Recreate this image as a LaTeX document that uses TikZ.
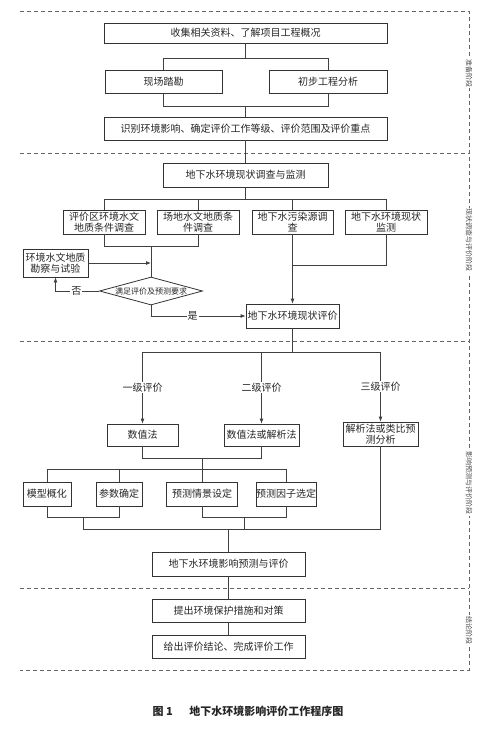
\documentclass[tikz,border=0pt]{standalone}
\usepackage{fontspec}
\newfontfamily\cjk{Noto Sans CJK SC}
\usetikzlibrary{arrows.meta,shapes.geometric}
\begin{document}
\begin{tikzpicture}[x=1pt,y=-1pt,
  box/.style={draw=black!80, line width=0.8pt, inner sep=0pt, align=center, font=\cjk\fontsize{10}{11.5}\selectfont, text=black!85},
  ln/.style={draw=black!75, line width=0.8pt},
  arr/.style={ln,-{Latex[length=5pt,width=4pt]}},
  lab/.style={font=\cjk\fontsize{10}{12}\selectfont, fill=white, inner sep=1pt, text=black!85},
  dsh/.style={draw=black!60, line width=0.8pt, dash pattern=on 4pt off 3pt},
  side/.style={font=\cjk\fontsize{7}{8}\selectfont, rotate=-90, fill=white, inner sep=1pt, text=black!70}
]
\useasboundingbox (0,0) rectangle (486,747);
% dashed frame
\draw[dsh] (20,11) -- (469,11) -- (469,670) -- (20,670);
\draw[dsh] (20,153) -- (469,153);
\draw[dsh] (20,341) -- (469,341);
\draw[dsh] (20,588) -- (469,588);
\node[side] (s1) at (469,73) {准备阶段};
\node[side] (s2) at (469,240) {现状调查与评价阶段};
\node[side] (s3) at (469,483) {影响预测与评价阶段};
\node[side] (s4) at (469,630) {结论阶段};

% stage 1
\node[box, minimum width=283pt, minimum height=20pt] (n1) at (245.5,33) {收集相关资料、了解项目工程概况};
\node[box, minimum width=117pt, minimum height=23pt] (n2) at (163.5,81.5) {现场踏勘};
\node[box, minimum width=118pt, minimum height=23pt] (n3) at (328,81.5) {初步工程分析};
\node[box, minimum width=283pt, minimum height=23pt] (n4) at (245.5,128.5) {识别环境影响、确定评价工作等级、评价范围及评价重点};
\coordinate (j1) at (245.5,58);
\coordinate (j2) at (245.5,106);
\draw[ln] (n1.south) -- (j1);
\draw[ln] (n2.north) |- (n3.north |- j1) -- (n3.north);
\draw[ln] (n2.south) |- (n3.south |- j2) -- (n3.south);
\draw[ln] (j2) -- (n4.north);

% stage 2
\node[box, minimum width=165pt, minimum height=24pt] (n5) at (245.5,175) {地下水环境现状调查与监测};
\draw[ln] (n4.south) -- (n5.north);
\node[box, minimum width=82pt, minimum height=24pt] (b1) at (104,222) {评价区环境水文\\地质条件调查};
\node[box, minimum width=82pt, minimum height=24pt] (b2) at (198,222) {场地水文地质条\\件调查};
\node[box, minimum width=81pt, minimum height=24pt] (b3) at (292.5,222) {地下水污染源调\\查};
\node[box, minimum width=82pt, minimum height=24pt] (b4) at (386,222) {地下水环境现状\\监测};
\coordinate (j3) at (245.5,199);
\draw[ln] (n5.south) -- (j3);
\draw[ln] (b1.north) |- (b4.north |- j3) -- (b4.north);
\draw[ln] (b2.north) -- (b2.north |- j3);
\draw[ln] (b3.north) -- (b3.north |- j3);

\node[box, minimum width=65pt, minimum height=28pt] (kc) at (55.5,263) {环境水文地质\\勘察与试验};
\node[diamond, draw=black!80, line width=0.8pt, minimum width=103pt, minimum height=28pt, inner sep=0pt, font=\cjk\fontsize{8}{9}\selectfont, text=black!85] (dm) at (151,291) {\makebox[0pt]{满足评价及预测要求}};
\node[box, minimum width=93pt, minimum height=24pt] (pj) at (292.5,316) {地下水环境现状评价};
\coordinate (j4) at (151,246);
\draw[ln] (b1.south) |- (b2.south |- j4) -- (b2.south);
\draw[ln] (j4) -- (dm.north);
\draw[arr] (kc.east) -- (kc.east -| dm.north);
\draw[arr] (dm.west) -| node[pos=0.26, lab]{否} (kc.south);
\draw[arr] (dm.south) |- node[pos=0.72, lab]{是} (pj.west);
\draw[arr] (b3.south) -- (pj.north);
\coordinate (j5) at (292.5,265);
\draw[ln] (b4.south) |- (j5);

% stage 3
\node[box, minimum width=71pt, minimum height=22pt] (m1) at (142.5,435) {数值法};
\node[box, minimum width=75pt, minimum height=22pt] (m2) at (261.5,435) {数值法或解析法};
\node[box, minimum width=75pt, minimum height=24pt] (m3) at (380.5,434) {解析法或类比预\\测分析};
\coordinate (j6) at (292.5,352);
\draw[ln] (pj.south) -- (j6);
\draw[ln] (m1.north |- j6) -- (m3.north |- j6);
\draw[arr] (m1.north |- j6) -- node[lab]{一级评价} (m1.north);
\draw[arr] (m2.north |- j6) -- node[lab]{二级评价} (m2.north);
\draw[arr] (m3.north |- j6) -- node[lab]{三级评价} (m3.north);

\node[box, minimum width=48pt, minimum height=24pt] (p1) at (47,494) {模型概化};
\node[box, minimum width=46pt, minimum height=24pt] (p2) at (119,494) {参数确定};
\node[box, minimum width=71pt, minimum height=24pt] (p3) at (202,494) {预测情景设定};
\node[box, minimum width=54pt, minimum height=24pt] (p4) at (286,494) {预测因子选定};
\coordinate (j7) at (202,458);
\coordinate (j8) at (202,469);
\draw[ln] (m1.south) |- (m2.south |- j7) -- (m2.south);
\draw[ln] (j7) -- (p3.north);
\draw[ln] (p1.north) |- (p4.north |- j8) -- (p4.north);
\draw[ln] (p2.north) -- (p2.north |- j8);
\coordinate (j9) at (83,517);
\coordinate (j10) at (244,517);
\coordinate (j11) at (228.5,529);
\draw[ln] (p1.south) |- (p2.south |- j9) -- (p2.south);
\draw[ln] (p3.south) |- (p4.south |- j10) -- (p4.south);
\draw[ln] (j9) |- (m3.south |- j11) -- (m3.south);
\draw[ln] (j10) -- (j10 |- j11);

\node[box, minimum width=153pt, minimum height=24pt] (ip) at (228.5,564) {地下水环境影响预测与评价};
\draw[ln] (j11) -- (ip.north);

% stage 4
\node[box, minimum width=153pt, minimum height=23pt] (tc) at (228.5,610.5) {提出环境保护措施和对策};
\node[box, minimum width=153pt, minimum height=23pt] (gc) at (228.5,646.5) {给出评价结论、完成评价工作};
\draw[ln] (ip.south) -- (tc.north);
\draw[ln] (tc.south) -- (gc.north);

\node[font=\cjk\bfseries\fontsize{11}{13}\selectfont, text=black!85] (cap) at (248,711) {图 1\hspace{1.5em}地下水环境影响评价工作程序图};
\end{tikzpicture}
\end{document}
